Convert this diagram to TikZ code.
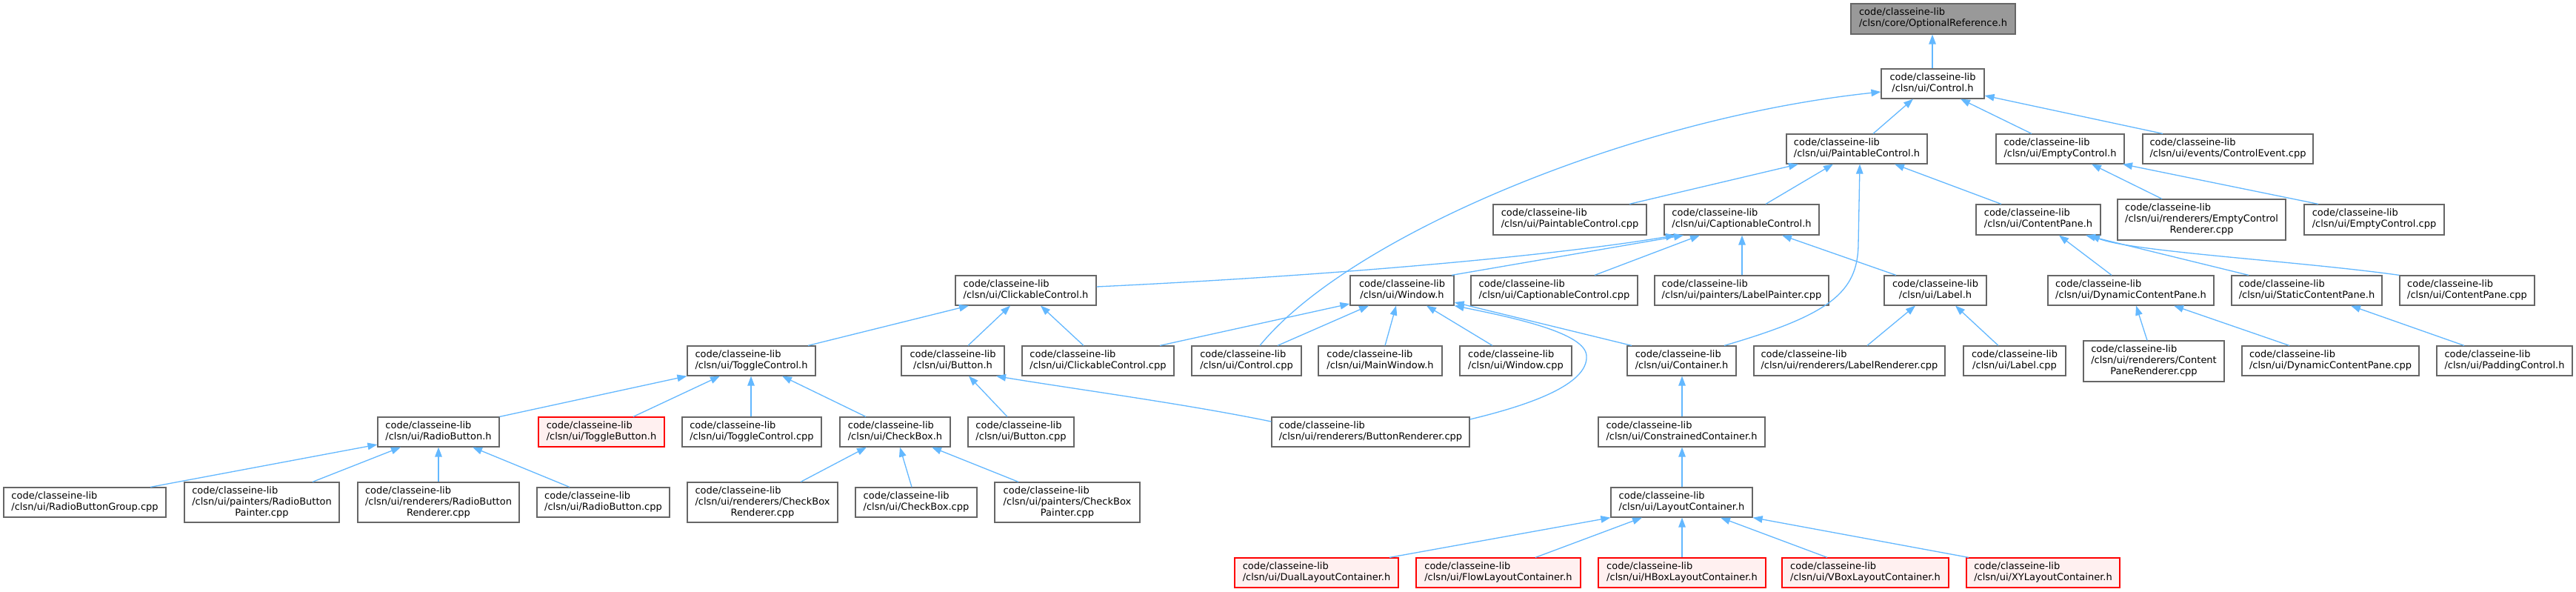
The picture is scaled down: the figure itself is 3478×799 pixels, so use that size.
\documentclass[tikz,border=0pt]{standalone}
\usepackage{fontspec}
\setmainfont{DejaVu Sans}
\usetikzlibrary{arrows.meta}
\definecolor{edgeblue}{HTML}{63B8FF}
\definecolor{nodeborder}{HTML}{666666}
\definecolor{rootfill}{HTML}{999999}
\definecolor{redfill}{HTML}{FFF0F0}
\definecolor{redborder}{HTML}{FF0000}
\newcommand{\lb}[2]{\begin{tabular}{@{}l@{}}#1\\\multicolumn{1}{@{}c@{}}{#2}\end{tabular}}
\newcommand{\lbb}[3]{\begin{tabular}{@{}l@{}}#1\\#2\\\multicolumn{1}{@{}c@{}}{#3}\end{tabular}}
\newcommand{\gtwo}[7][]{\node[gbox,#1,minimum width={(#5-#3)*1pt},minimum height={(#6-#4)*1pt}] (#2) at ({(#3+#5)/2},{(#4+#6)/2}) {\lb{code/classeine-lib}{#7}};}
\newcommand{\gthree}[8][]{\node[gbox,#1,minimum width={(#5-#3)*1pt},minimum height={(#6-#4)*1pt}] (#2) at ({(#3+#5)/2},{(#4+#6)/2}) {\lbb{code/classeine-lib}{#7}{#8}};}
\tikzset{
  gbox/.style={draw=nodeborder, fill=white, line width=1.2pt, inner sep=0pt, text=black, font=\fontsize{13}{15}\selectfont},
  rootbox/.style={fill=rootfill},
  redbox/.style={draw=redborder, fill=redfill},
  edge/.style={draw=edgeblue, line width=1.3pt, -{Triangle[length=13pt,width=9.5pt]}}
}
\begin{document}
\begin{tikzpicture}[x=1pt,y=-1pt]
\useasboundingbox[fill=white] (0,0) rectangle (3478,799);
% nodes
\gtwo[rootbox]{opt}{2499}{5}{2721}{46}{/clsn/core/OptionalReference.h}
\gtwo{ctrlh}{2540}{93}{2679}{133}{/clsn/ui/Control.h}
\gtwo{pch}{2412}{181}{2602}{221}{/clsn/ui/PaintableControl.h}
\gtwo{ech}{2695}{181}{2868}{221}{/clsn/ui/EmptyControl.h}
\gtwo{cev}{2893}{181}{3123}{221}{/clsn/ui/events/ControlEvent.cpp}
\gtwo{pccpp}{2016}{276}{2223}{317}{/clsn/ui/PaintableControl.cpp}
\gtwo{cch}{2247}{276}{2456}{317}{/clsn/ui/CaptionableControl.h}
\gtwo{cph}{2668}{276}{2836}{317}{/clsn/ui/ContentPane.h}
\gthree{ecr}{2859}{269}{3086}{324}{/clsn/ui/renderers/EmptyControl}{Renderer.cpp}
\gtwo{eccpp}{3111}{276}{3300}{317}{/clsn/ui/EmptyControl.cpp}
\gtwo{clh}{1290}{372}{1480}{412}{/clsn/ui/ClickableControl.h}
\gtwo{winh}{1823}{372}{1963}{412}{/clsn/ui/Window.h}
\gtwo{cccpp}{1986}{372}{2211}{412}{/clsn/ui/CaptionableControl.cpp}
\gtwo{lp}{2234}{372}{2469}{412}{/clsn/ui/painters/LabelPainter.cpp}
\gtwo{lblh}{2544}{372}{2682}{412}{/clsn/ui/Label.h}
\gtwo{dcph}{2765}{372}{2989}{412}{/clsn/ui/DynamicContentPane.h}
\gtwo{scph}{3013}{372}{3216}{412}{/clsn/ui/StaticContentPane.h}
\gtwo{cpcpp}{3240}{372}{3422}{412}{/clsn/ui/ContentPane.cpp}
\gtwo{tch}{928}{467}{1101}{507}{/clsn/ui/ToggleControl.h}
\gtwo{buth}{1217}{467}{1356}{507}{/clsn/ui/Button.h}
\gtwo{clcpp}{1380}{467}{1585}{507}{/clsn/ui/ClickableControl.cpp}
\gtwo{ctrlcpp}{1609}{467}{1757}{507}{/clsn/ui/Control.cpp}
\gtwo{mwh}{1780}{467}{1947}{507}{/clsn/ui/MainWindow.h}
\gtwo{wincpp}{1971}{467}{2122}{507}{/clsn/ui/Window.cpp}
\gtwo{conth}{2197}{467}{2344}{507}{/clsn/ui/Container.h}
\gtwo{lr}{2368}{467}{2626}{507}{/clsn/ui/renderers/LabelRenderer.cpp}
\gtwo{lblcpp}{2651}{467}{2789}{507}{/clsn/ui/Label.cpp}
\gthree{cpr}{2813}{460}{3003}{515}{/clsn/ui/renderers/Content}{PaneRenderer.cpp}
\gtwo{dcpcpp}{3027}{467}{3266}{507}{/clsn/ui/DynamicContentPane.cpp}
\gtwo{padh}{3290}{467}{3473}{507}{/clsn/ui/PaddingControl.h}
\gtwo{rbh}{510}{563}{674}{603}{/clsn/ui/RadioButton.h}
\gtwo[redbox]{tbh}{727}{563}{897}{603}{/clsn/ui/ToggleButton.h}
\gtwo{tccpp}{921}{563}{1109}{603}{/clsn/ui/ToggleControl.cpp}
\gtwo{cbh}{1134}{563}{1283}{603}{/clsn/ui/CheckBox.h}
\gtwo{butcpp}{1307}{563}{1450}{603}{/clsn/ui/Button.cpp}
\gtwo{br}{1717}{563}{1984}{603}{/clsn/ui/renderers/ButtonRenderer.cpp}
\gtwo{ccont}{2158}{563}{2383}{603}{/clsn/ui/ConstrainedContainer.h}
\gtwo{rbg}{5}{658}{224}{698}{/clsn/ui/RadioButtonGroup.cpp}
\gthree{rbp}{249}{651}{458}{705}{/clsn/ui/painters/RadioButton}{Painter.cpp}
\gthree{rbr}{483}{651}{701}{705}{/clsn/ui/renderers/RadioButton}{Renderer.cpp}
\gtwo{rbcpp}{725}{658}{904}{698}{/clsn/ui/RadioButton.cpp}
\gthree{cbr}{928}{651}{1131}{705}{/clsn/ui/renderers/CheckBox}{Renderer.cpp}
\gtwo{cbcpp}{1155}{658}{1319}{698}{/clsn/ui/CheckBox.cpp}
\gthree{cbp}{1343}{651}{1539}{705}{/clsn/ui/painters/CheckBox}{Painter.cpp}
\gtwo{lch}{2175}{658}{2366}{698}{/clsn/ui/LayoutContainer.h}
\gtwo[redbox]{dual}{1667}{753}{1888}{793}{/clsn/ui/DualLayoutContainer.h}
\gtwo[redbox]{flow}{1912}{753}{2134}{793}{/clsn/ui/FlowLayoutContainer.h}
\gtwo[redbox]{hbox}{2158}{753}{2384}{793}{/clsn/ui/HBoxLayoutContainer.h}
\gtwo[redbox]{vbox}{2406}{753}{2631}{793}{/clsn/ui/VBoxLayoutContainer.h}
\gtwo[redbox]{xy}{2655}{753}{2862}{793}{/clsn/ui/XYLayoutContainer.h}
% edges (child -> parent)
\draw[edge] (ctrlh.north -| 2609,0) -- (opt.south -| 2609,0);
\draw[edge] (pch.north -| 2529,0) -- (ctrlh.south -| 2583,0);
\draw[edge] (ech.north -| 2743,0) -- (ctrlh.south -| 2647,0);
\draw[edge] (cev.north -| 2920,0) -- (ctrlh.east |- 0,129);
\draw[edge] (ctrlcpp.north -| 1701,0) .. controls (1820,320) and (2200,160) .. (ctrlh.west |- 0,124);
\draw[edge] (pccpp.north -| 2200,0) -- (pch.south -| 2428,0);
\draw[edge] (cch.north -| 2384,0) -- (pch.south -| 2475,0);
\draw[edge] (cph.north -| 2702,0) -- (pch.south -| 2558,0);
\draw[edge] (conth.north -| 2328,0) .. controls (2470,425) and (2508,395) .. (2509,330) -- (pch.south -| 2511,0);
\draw[edge] (ecr.north -| 2919,0) -- (ech.south -| 2824,0);
\draw[edge] (eccpp.north -| 3130,0) -- (ech.south -| 2866,0);
\draw[edge] (clh.east |- 0,387) .. controls (1800,372) and (2100,345) .. (cch.south -| 2262,0);
\draw[edge] (winh.north -| 1960,0) -- (cch.south -| 2273,0);
\draw[edge] (cccpp.north -| 2153,0) -- (cch.south -| 2295,0);
\draw[edge] (lp.north -| 2352,0) -- (cch.south -| 2352,0);
\draw[edge] (lblh.north -| 2560,0) -- (cch.south -| 2406,0);
\draw[edge] (dcph.north -| 2851,0) -- (cph.south -| 2780,0);
\draw[edge] (scph.north -| 3036,0) -- (cph.south -| 2816,0);
\draw[edge] (cpcpp.north west) .. controls (3100,352) and (2880,340) .. (cph.south -| 2822,0);
\draw[edge] (tch.north -| 1091,0) -- (clh.south -| 1308,0);
\draw[edge] (buth.north -| 1307,0) -- (clh.south -| 1364,0);
\draw[edge] (clcpp.north -| 1463,0) -- (clh.south -| 1405,0);
\draw[edge] (clcpp.north -| 1566,0) -- (winh.west |- 0,410);
\draw[edge] (ctrlcpp.north -| 1725,0) -- (winh.south -| 1848,0);
\draw[edge] (mwh.north -| 1870,0) -- (winh.south -| 1885,0);
\draw[edge] (wincpp.north -| 2015,0) -- (winh.south -| 1926,0);
\draw[edge] (conth.north -| 2203,0) -- (winh.east |- 0,408);
\draw[edge] (br.east |- 0,566) .. controls (2060,548) and (2145,520) .. (2142,480) .. controls (2140,450) and (2050,430) .. (winh.south east);
\draw[edge] (lr.north -| 2521,0) -- (lblh.south -| 2586,0);
\draw[edge] (lblcpp.north -| 2698,0) -- (lblh.south -| 2640,0);
\draw[edge] (cpr.north -| 2899,0) -- (dcph.south -| 2884,0);
\draw[edge] (dcpcpp.north -| 3091,0) -- (dcph.south -| 2935,0);
\draw[edge] (padh.north -| 3327,0) -- (scph.south -| 3174,0);
\draw[edge] (rbh.north east) -- (tch.south west);
\draw[edge] (tbh.north -| 855,0) -- (tch.south -| 972,0);
\draw[edge] (tccpp.north -| 1014,0) -- (tch.south -| 1014,0);
\draw[edge] (cbh.north -| 1169,0) -- (tch.south -| 1056,0);
\draw[edge] (butcpp.north -| 1360,0) -- (buth.south -| 1308,0);
\draw[edge] (br.west |- 0,569) .. controls (1600,545) and (1450,525) .. (buth.south -| 1345,0);
\draw[edge] (ccont.north -| 2271,0) -- (conth.south -| 2271,0);
\draw[edge] (lch.north -| 2271,0) -- (ccont.south -| 2271,0);
\draw[edge] (dual.north -| 1876,0) -- (lch.south west);
\draw[edge] (flow.north -| 2073,0) -- (lch.south -| 2217,0);
\draw[edge] (hbox.north -| 2271,0) -- (lch.south -| 2271,0);
\draw[edge] (vbox.north -| 2467,0) -- (lch.south -| 2323,0);
\draw[edge] (xy.north -| 2658,0) -- (lch.south east);
\draw[edge] (rbg.north -| 203,0) -- (rbh.west |- 0,600);
\draw[edge] (rbp.north -| 422,0) -- (rbh.south -| 541,0);
\draw[edge] (rbr.north -| 592,0) -- (rbh.south -| 592,0);
\draw[edge] (rbcpp.north -| 769,0) -- (rbh.south -| 638,0);
\draw[edge] (cbr.north -| 1081,0) -- (cbh.south -| 1170,0);
\draw[edge] (cbcpp.north -| 1231,0) -- (cbh.south -| 1215,0);
\draw[edge] (cbp.north -| 1375,0) -- (cbh.south -| 1258,0);
\end{tikzpicture}
\end{document}
